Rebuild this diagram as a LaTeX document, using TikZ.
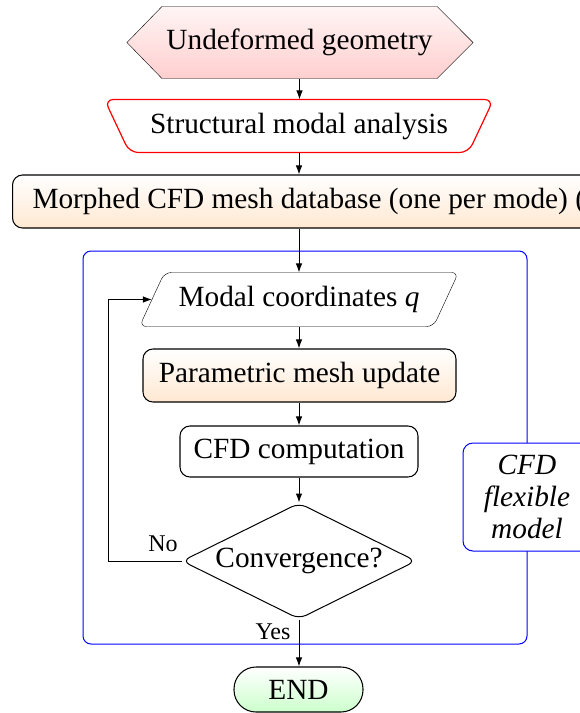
\documentclass[tikz,border=0pt]{standalone}
\usepackage{fontspec}
\setmainfont{Liberation Serif}
\usetikzlibrary{shapes.geometric,arrows.meta,backgrounds,calc}
\begin{document}
\begin{tikzpicture}[x=1pt,y=-1pt,line width=1.05pt,
  every node/.style={font=\fontsize{29.3}{32}\selectfont, inner sep=0pt},
  arr/.style={-{Latex[length=9pt,width=6.5pt]}, line width=1pt},
  box/.style={draw, rounded corners=10pt, minimum height=53pt},
  lbl/.style={font=\fontsize{24}{28}\selectfont},
  bluebox/.style={draw=blue, line width=1pt},
]
\useasboundingbox (0,0) rectangle (579,713);

% container
\node[bluebox, rounded corners=8pt, minimum width=444pt, minimum height=393pt] (frame) at (305,447.5) {};

% nodes
\node[minimum width=274pt, minimum height=71pt] (geo) at (299.5,42.5) {Undeformed geometry};
\node[minimum width=338pt, minimum height=52pt] (struct) at (299,126) {Structural modal analysis};
\node[box, top color=white, bottom color=orange!18, anchor=west, inner xsep=20pt] (morph) at (12,201.5) {Morphed CFD mesh database (one per mode) (};
\node[minimum width=268pt, minimum height=53pt] (modal) at (299,299.5) {Modal coordinates \textit{q}};
\node[box, top color=white, bottom color=orange!18, minimum width=313pt] (param) at (299.5,375.5) {Parametric mesh update};
\node[box, minimum width=238pt, minimum height=51pt] (cfd) at (299,451.5) {CFD computation};
\node[draw, diamond, aspect=2, minimum width=234pt, minimum height=116pt, rounded corners=8pt, line width=1pt] (conv) at (299,561) {Convergence?};
\node[draw, rounded corners=22pt, minimum width=129pt, minimum height=45pt, top color=white, bottom color=green!20] (endn) at (298.5,689.5) {END};
\node[bluebox, fill=white, rounded corners=10pt, minimum width=128pt, minimum height=108pt, align=center, font=\fontsize{29.3}{32}\selectfont\itshape] (flex) at (527,497) {CFD\\flexible\\model};

% outlines of special shapes
\begin{scope}[on background layer]
\draw[top color=red!4, bottom color=red!19] (geo.north west) -- (geo.north east) -- ([xshift=36pt]geo.east) -- (geo.south east) -- (geo.south west) -- ([xshift=-35pt]geo.west) -- cycle;
\draw[red, line width=1.2pt, fill=white, rounded corners=9pt] (struct.south west) -- ([xshift=-25pt]struct.north west) -- ([xshift=25pt]struct.north east) -- (struct.south east) -- cycle;
\draw[fill=white, rounded corners=7pt] ([xshift=-25pt]modal.south west) -- (modal.north west) -- ([xshift=25pt]modal.north east) -- (modal.south east) -- cycle;
\end{scope}

% connectors
\draw[arr] (geo.south) -- (geo.south |- struct.north);
\draw[arr] (struct.south) -- (struct.south |- morph.north);
\draw[arr] (morph.south -| modal.north) -- (modal.north);
\draw[arr] (modal.south) -- (modal.south |- param.north);
\draw[arr] (param.south -| cfd.north) -- (cfd.north);
\draw[arr] (cfd.south) -- (conv.north);
\draw[arr] (conv.south) -- (conv.south |- endn.north);
\coordinate (turn) at (108,561);
\draw[arr] (conv.west) -- (turn) |- ([xshift=-12.5pt]modal.west);

% labels
\node[lbl] (no) at (163,544) {No};
\node[lbl] (yes) at (273,632) {Yes};
\end{tikzpicture}
\end{document}
